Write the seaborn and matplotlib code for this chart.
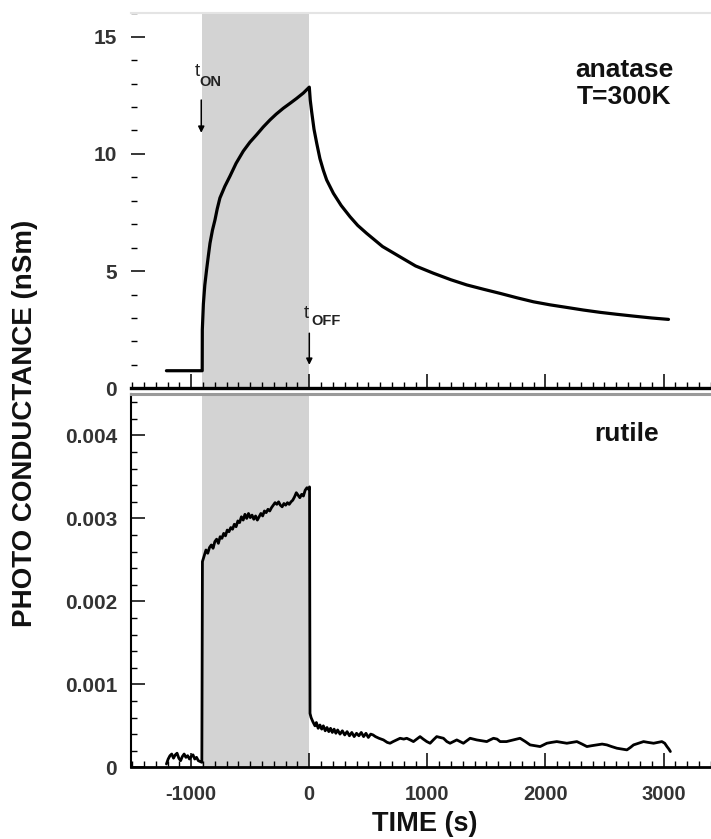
import numpy as np
import pandas as pd
import matplotlib
matplotlib.use("Agg")
import matplotlib.pyplot as plt
from matplotlib.ticker import MultipleLocator
import seaborn as sns

# ---------------- data ----------------
light_on = -910
light_off = 0

# anatase: dark + illuminated
anatase_on_time = [-1210, -907, -906, -897, -885, -870, -855, -841, -820, -799, -780, -757,
                   -715, -672, -620, -559, -503, -446, -390, -333, -280, -220, -160, -107,
                   -50, 0]
anatase_on_val = [0.75, 0.75, 2.5, 3.6, 4.4, 5.05, 5.65, 6.19, 6.75, 7.18, 7.65, 8.12,
                  8.62, 9.05, 9.6, 10.12, 10.5, 10.82, 11.15, 11.45, 11.7, 11.95, 12.17, 12.37,
                  12.6, 12.85]
# anatase: after light off
anatase_off_time = [8, 20, 40, 63, 90, 119, 147, 204, 270, 345, 410, 486, 620, 768, 900,
                    1051, 1200, 1334, 1480, 1616, 1760, 1899, 2040, 2181, 2320, 2464, 2600,
                    2746, 2900, 3042]
anatase_off_val = [12.3, 11.8, 11.05, 10.45, 9.8, 9.3, 8.89, 8.32, 7.8, 7.32, 6.95, 6.61,
                   6.05, 5.61, 5.22, 4.91, 4.63, 4.41, 4.22, 4.05, 3.86, 3.69, 3.56, 3.45,
                   3.34, 3.24, 3.16, 3.08, 3.0, 2.94]

# rutile: dark (before light on)
rutile_pre_time = [-1210, -1195, -1180, -1165, -1150, -1135, -1120, -1105, -1090, -1075,
                   -1060, -1045, -1030, -1015, -1000, -985, -970, -955, -940, -925, -910]
rutile_pre_val = [0.00004, 0.00010, 0.00014, 0.00016, 0.00011, 0.00015, 0.00017, 0.00011,
                  0.00008, 0.00013, 0.00016, 0.00012, 0.00014, 0.00010, 0.00013, 0.00015,
                  0.00010, 0.00012, 0.00008, 0.00007, 0.00006]
# rutile: illuminated
rutile_on_time = [-905, -890, -875, -860, -845, -830, -815, -800, -785, -770,
                  -755, -740, -725, -710, -695, -680, -665, -650, -635, -620,
                  -605, -590, -575, -560, -545, -530, -515, -500, -485, -470,
                  -455, -440, -425, -410, -395, -380, -365, -350, -335, -320,
                  -305, -290, -275, -260, -245, -230, -215, -200, -185, -170,
                  -155, -140, -125, -110, -95, -80, -65, -50, -35, -20,
                  -5, 2]
rutile_on_val = [0.00248, 0.00255, 0.00262, 0.00258, 0.00265, 0.00268, 0.00264, 0.00272, 0.00275, 0.00270,
                 0.00278, 0.00276, 0.00282, 0.00279, 0.00286, 0.00284, 0.00289, 0.00287, 0.00293, 0.00290,
                 0.00297, 0.00295, 0.00302, 0.00298, 0.00305, 0.00300, 0.00306, 0.00301, 0.00304, 0.00299,
                 0.00303, 0.00298, 0.00302, 0.00306, 0.00303, 0.00309, 0.00307, 0.00311, 0.00309, 0.00313,
                 0.00316, 0.00319, 0.00317, 0.00320, 0.00316, 0.00314, 0.00318, 0.00316, 0.00319, 0.00317,
                 0.00320, 0.00322, 0.00326, 0.00331, 0.00328, 0.00325, 0.00329, 0.00327, 0.00334, 0.00337,
                 0.00335, 0.00338]
# rutile: after light off
rutile_off_time = [6, 15, 30, 48, 60, 75, 90, 105, 119, 135, 150, 165, 180, 195, 210, 225,
                   240, 260, 280, 300, 320, 340, 360, 380, 400, 420, 440, 460, 480, 500, 520,
                   540, 560, 590, 628, 660, 684, 710, 740, 769, 800, 825, 855, 882, 910, 938,
                   965, 995, 1023, 1050, 1079, 1108, 1136, 1165, 1192, 1220, 1249, 1277, 1305,
                   1333, 1362, 1390, 1418, 1460, 1503, 1530, 1560, 1590, 1616, 1670, 1729,
                   1785, 1830, 1870, 1910, 1955, 2012, 2050, 2096, 2140, 2181, 2225, 2266,
                   2310, 2351, 2390, 2435, 2480, 2520, 2560, 2605, 2650, 2690, 2720, 2746,
                   2790, 2831, 2870, 2916, 2950, 2986, 3010, 3029, 3045, 3058]
rutile_off_val = [0.00065, 0.00060, 0.00055, 0.00050, 0.00054, 0.00047, 0.00051, 0.00046,
                  0.00050, 0.00044, 0.00048, 0.00043, 0.00047, 0.00042, 0.00046, 0.00041,
                  0.00045, 0.00040, 0.00044, 0.00039, 0.00043, 0.00038, 0.00042, 0.00037,
                  0.00041, 0.00038, 0.00042, 0.00037, 0.00041, 0.00036, 0.00040,
                  0.00039, 0.00037, 0.00035, 0.00033, 0.00030, 0.00029, 0.00031, 0.00033,
                  0.00035, 0.00034, 0.00035, 0.00033, 0.00031, 0.00034, 0.00037,
                  0.00034, 0.00031, 0.00029, 0.00033, 0.00037, 0.00036, 0.00035, 0.00031,
                  0.00029, 0.00031, 0.00033, 0.00031, 0.00029,
                  0.00032, 0.00035, 0.00034, 0.00033, 0.00032, 0.00031, 0.00033, 0.00035,
                  0.00034, 0.00031, 0.00031, 0.00033,
                  0.00035, 0.00031, 0.00027, 0.00026, 0.00025, 0.00029, 0.00030, 0.00031,
                  0.00030, 0.00029, 0.00030, 0.00031,
                  0.00028, 0.00025, 0.00026, 0.00027, 0.00028, 0.00027, 0.00025, 0.00023,
                  0.00022, 0.00021, 0.00024, 0.00027,
                  0.00029, 0.00031, 0.00030, 0.00029, 0.00030, 0.00031, 0.00029, 0.00025,
                  0.00022, 0.00019]

x_ticks = [-1000, 0, 1000, 2000, 3000]
top_yticks = [0, 5, 10, 15]
bottom_yticks = [0, 0.001, 0.002, 0.003, 0.004]
bottom_ylabels = ["0", "0.001", "0.002", "0.003", "0.004"]

anatase_df = pd.DataFrame({
    "time": anatase_on_time + anatase_off_time,
    "g": anatase_on_val + anatase_off_val,
})
rutile_df = pd.DataFrame({
    "time": rutile_pre_time + rutile_on_time + rutile_off_time,
    "g": rutile_pre_val + rutile_on_val + rutile_off_val,
})

# ---------------- style ----------------
sns.set_theme(style="white")
plt.rcParams["font.family"] = ["Liberation Sans", "DejaVu Sans"]

W, H = 711, 839
fig = plt.figure(figsize=(W / 100, H / 100), dpi=100)
x0 = 131 / W
ax_top = fig.add_axes([x0, (H - 388.3) / H, 1 - x0, (388.3 - 13.3) / H])
ax_bot = fig.add_axes([x0, (H - 767.3) / H, 1 - x0, (767.3 - 394) / H])

xlim = (-1510, 3402)
band = "#d3d3d3"
tick_color = "#333333"

for ax in (ax_top, ax_bot):
    ax.axvspan(light_on, light_off, color=band, lw=0, zorder=0)
    ax.set_xlim(*xlim)
    ax.set_facecolor("white")
    ax.xaxis.set_major_locator(MultipleLocator(1000))
    ax.xaxis.set_minor_locator(MultipleLocator(100))
    ax.tick_params(axis="both", which="both", direction="in", color="black",
                   bottom=True, left=True, top=False, right=False)
    ax.tick_params(axis="both", which="major", length=10, width=1.1)
    ax.tick_params(axis="both", which="minor", length=4.5, width=1.0)
    ax.spines["right"].set_visible(False)

sns.lineplot(data=anatase_df, x="time", y="g", ax=ax_top, color="black", lw=2.3,
             estimator=None, sort=False, zorder=3)
sns.lineplot(data=rutile_df, x="time", y="g", ax=ax_bot, color="black", lw=2.0,
             estimator=None, sort=False, zorder=3)

# top panel
ax_top.set_ylim(0, 16)
ax_top.set_yticks(top_yticks)
ax_top.yaxis.set_minor_locator(MultipleLocator(1))
ax_top.set_yticklabels([str(v) for v in top_yticks], fontsize=15, fontweight="bold",
                       color=tick_color)
ax_top.tick_params(axis="y", which="major", pad=10)
ax_top.tick_params(axis="x", labelbottom=False)
ax_top.spines["left"].set_visible(False)
ax_top.spines["top"].set_color("#e4e4e4")
ax_top.spines["top"].set_linewidth(1.5)
ax_top.spines["bottom"].set_color("black")
ax_top.spines["bottom"].set_linewidth(2.4)
ax_top.set_xlabel("")
ax_top.set_ylabel("")

# bottom panel
ax_bot.set_ylim(0, 0.0045)
ax_bot.set_yticks(bottom_yticks)
ax_bot.yaxis.set_minor_locator(MultipleLocator(0.0002))
ax_bot.set_yticklabels(bottom_ylabels, fontsize=15, fontweight="bold", color=tick_color)
ax_bot.set_xticks(x_ticks)
ax_bot.set_xticklabels([str(v) for v in x_ticks], fontsize=14.5, fontweight="bold",
                       color=tick_color)
ax_bot.tick_params(axis="y", which="major", pad=10)
ax_bot.tick_params(axis="x", which="major", pad=13)
ax_bot.spines["left"].set_color("black")
ax_bot.spines["left"].set_linewidth(1.5)
ax_bot.spines["bottom"].set_color("black")
ax_bot.spines["bottom"].set_linewidth(2.0)
ax_bot.spines["top"].set_color("#9a9a9a")
ax_bot.spines["top"].set_linewidth(2.2)
ax_bot.set_xlabel("")
ax_bot.set_ylabel("")

# annotations
arrow = dict(arrowstyle="-|>", color="black", lw=1.1, mutation_scale=9,
             shrinkA=0, shrinkB=0)
ax_top.annotate("", xy=(-915, 10.9), xytext=(-915, 12.3), arrowprops=arrow)
ax_top.text(-949, 13.5, "t", fontsize=13.5, ha="center", va="center", color="#222222")
ax_top.text(-841, 13.08, "ON", fontsize=10.5, fontweight="bold", ha="center",
            va="center", color="#222222")
ax_top.annotate("", xy=(0, 1.0), xytext=(0, 2.35), arrowprops=arrow)
ax_top.text(-28, 3.2, "t", fontsize=13.5, ha="center", va="center", color="#222222")
ax_top.text(143, 2.88, "OFF", fontsize=10.5, fontweight="bold", ha="center",
            va="center", color="#222222")

ax_top.text(2667, 13.0, "anatase\nT=300K", fontsize=19, fontweight="bold", ha="center",
            va="center", linespacing=1.15, color="#111111")
ax_bot.text(2690, 0.00402, "rutile", fontsize=19, fontweight="bold", ha="center",
            va="center", color="#111111")

fig.text(25 / W, 1 - 423 / H, "PHOTO CONDUCTANCE (nSm)", rotation=90, fontsize=20,
         fontweight="bold", ha="center", va="center", color="#111111")
fig.text(425 / W, 1 - 831 / H, "TIME (s)", fontsize=19.5, fontweight="bold",
         ha="center", va="baseline", color="#111111")

fig.savefig("out.png", dpi=100, facecolor="white")
